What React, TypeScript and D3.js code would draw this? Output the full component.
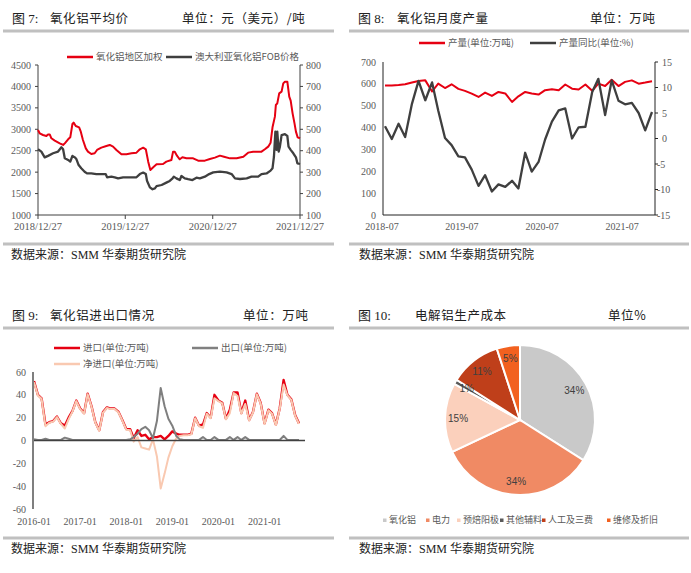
import React from 'react';
import * as d3 from 'd3';

// ---------------- Panel 1: alumina average price ----------------
const p1DomesticPrice: [string, number][] = [
  ['2018-12-27', 2984], ['2019-01-03', 2906], ['2019-01-17', 2867], ['2019-01-31', 2843], ['2019-02-07', 2880],
  ['2019-02-14', 2880], ['2019-02-21', 2790], ['2019-03-07', 2735], ['2019-03-28', 2672], ['2019-04-11', 2634],
  ['2019-04-18', 2672], ['2019-05-02', 2766], ['2019-05-11', 2813], ['2019-05-20', 3124], ['2019-05-25', 3155],
  ['2019-06-03', 3077], ['2019-06-17', 3046], ['2019-06-24', 2945], ['2019-07-03', 2750], ['2019-07-15', 2555],
  ['2019-07-24', 2478], ['2019-08-07', 2424], ['2019-08-21', 2440], ['2019-08-31', 2517], ['2019-09-18', 2571],
  ['2019-10-09', 2610], ['2019-10-23', 2634], ['2019-11-06', 2595], ['2019-11-20', 2517], ['2019-12-11', 2416],
  ['2020-01-01', 2416], ['2020-01-22', 2440], ['2020-02-12', 2455], ['2020-02-26', 2533], ['2020-03-11', 2571],
  ['2020-03-22', 2533], ['2020-04-01', 2245], ['2020-04-10', 2050], ['2020-04-22', 2113], ['2020-05-06', 2183],
  ['2020-06-02', 2190], ['2020-06-16', 2245], ['2020-07-07', 2283], ['2020-07-14', 2478], ['2020-07-21', 2478],
  ['2020-07-31', 2377], ['2020-08-11', 2300], ['2020-08-22', 2346], ['2020-09-08', 2322], ['2020-10-06', 2322],
  ['2020-10-27', 2268], ['2020-11-24', 2268], ['2020-12-15', 2307], ['2021-01-05', 2338], ['2021-01-26', 2385],
  ['2021-02-12', 2361], ['2021-03-09', 2322], ['2021-04-06', 2322], ['2021-05-04', 2361], ['2021-05-24', 2455],
  ['2021-06-14', 2478], ['2021-07-19', 2478], ['2021-08-02', 2533], ['2021-08-16', 2595], ['2021-08-26', 2688],
  ['2021-09-03', 3046], ['2021-09-13', 3295], ['2021-09-17', 3567], ['2021-09-23', 3606], ['2021-10-01', 3839],
  ['2021-10-11', 3878], ['2021-10-18', 4072], ['2021-10-25', 4111], ['2021-11-04', 4111], ['2021-11-12', 3761],
  ['2021-11-18', 3668], ['2021-11-26', 3372], ['2021-12-04', 3139], ['2021-12-10', 2945], ['2021-12-17', 2813],
  ['2021-12-27', 2790],
];
const p1FobPrice: [string, number][] = [
  ['2018-12-27', 407], ['2019-01-10', 396], ['2019-01-24', 369], ['2019-02-07', 376], ['2019-02-28', 388],
  ['2019-03-21', 396], ['2019-04-04', 416], ['2019-04-11', 407], ['2019-04-18', 365], ['2019-05-02', 357],
  ['2019-05-11', 349], ['2019-05-20', 376], ['2019-05-30', 369], ['2019-06-06', 360], ['2019-06-15', 333],
  ['2019-06-26', 318], ['2019-07-10', 302], ['2019-07-20', 294], ['2019-08-07', 294], ['2019-08-28', 291],
  ['2019-09-18', 291], ['2019-10-06', 291], ['2019-10-12', 276], ['2019-10-30', 279], ['2019-11-13', 276],
  ['2019-11-27', 271], ['2019-12-18', 276], ['2020-01-22', 276], ['2020-02-12', 276], ['2020-02-26', 291],
  ['2020-03-11', 298], ['2020-03-22', 291], ['2020-03-27', 260], ['2020-04-08', 229], ['2020-04-19', 220],
  ['2020-04-29', 224], ['2020-05-06', 235], ['2020-05-27', 240], ['2020-06-16', 251], ['2020-06-30', 259],
  ['2020-07-12', 271], ['2020-07-17', 279], ['2020-07-28', 271], ['2020-08-11', 263], ['2020-08-18', 282],
  ['2020-09-01', 271], ['2020-09-15', 267], ['2020-10-03', 263], ['2020-10-20', 274], ['2020-11-03', 271],
  ['2020-11-24', 279], ['2020-12-12', 291], ['2020-12-29', 299], ['2021-01-26', 302], ['2021-02-23', 299],
  ['2021-03-16', 291], ['2021-03-30', 271], ['2021-04-20', 268], ['2021-05-18', 271], ['2021-06-07', 279],
  ['2021-07-05', 279], ['2021-07-19', 291], ['2021-08-09', 294], ['2021-08-26', 307], ['2021-09-03', 318],
  ['2021-09-09', 372], ['2021-09-15', 489], ['2021-09-20', 404], ['2021-09-23', 489], ['2021-09-29', 396],
  ['2021-10-04', 419], ['2021-10-11', 473], ['2021-10-25', 477], ['2021-11-04', 469], ['2021-11-09', 419],
  ['2021-11-18', 404], ['2021-11-29', 388], ['2021-12-10', 369], ['2021-12-16', 341], ['2021-12-27', 338],
];
const p1LeftTicks = [1000, 1500, 2000, 2500, 3000, 3500, 4000, 4500];
const p1RightTicks = [100, 200, 300, 400, 500, 600, 700, 800];
const p1XTicks = ['2018/12/27', '2019/12/27', '2020/12/27', '2021/12/27'];
const p1SeriesNames = ['氧化铝地区加权', '澳大利亚氧化铝FOB价格'];

// ---------------- Panel 2: monthly alumina output ----------------
const p2Start = '2018-07';
const p2Output = [593, 593, 595, 598, 606, 613, 616, 565, 601, 581, 598, 577, 568, 555, 540, 560, 545, 563, 556, 517,
  543, 563, 556, 551, 571, 575, 571, 597, 578, 574, 597, 568, 601, 590, 619, 590, 609, 616, 601, 606, 612];
const p2Yoy = [2.4, -0.1, 2.9, 0.3, 6.8, 11.3, 7.5, 11.0, 5.5, 0.1, -1.3, -3.5, -3.7, -6.1, -9.3, -7.2, -10.4, -9.0,
  -9.5, -8.3, -9.8, -2.8, -6.5, -4.6, -0.2, 3.3, 5.5, 5.9, 0, 2.2, 2.3, 9.1, 11.7, 4.6, 11.4, 7.4, 6.7, 7.0, 5.0, 1.6, 5.2];
const p2LeftTicks = [0, 100, 200, 300, 400, 500, 600, 700];
const p2RightTicks = [-15, -10, -5, 0, 5, 10, 15];
const p2XTicks = ['2018-07', '2019-07', '2020-07', '2021-07'];
const p2SeriesNames = ['产量(单位:万吨)', '产量同比(单位:%)'];

// ---------------- Panel 3: import / export ----------------
const p3Start = '2016-01';
const p3Import = [52, 40, 37, 14, 16, 17, 21, 15, 13, 20, 26, 35, 28, 24, 41, 30, 16, 9, 25, 29,
  28, 28, 25, 18, 10, 10, 2, 9, 4, 5, 1, 3, 3, 4, 1, 4, 8, 6, 5, 5,
  5, 6, 20, 13, 14, 24, 20, 40, 35, 33, 19, 27, 42, 42, 24, 35, 18, 25, 41, 33,
  15, 27, 24, 14, 28, 53, 40, 36, 22, 15];
const p3Export = [1, 0.5, 0.5, 1.5, 0.5, 0.5, 0.5, 0.5, 2.5, 1.5, 0.5, 0.5, 0.5, 0.5, 0.5, 0.5, 0.5, 0.5, 0.5, 0.5,
  0.5, 0.5, 0.5, 0.5, 0.5, 1, 3, 6, 10, 12, 9, 2, 17, 46, 30, 19, 13, 4, 1, 0.5,
  0.5, 0.5, 0.5, 0.5, 3, 0.5, 0.5, 3, 0.5, 0.5, 0.5, 3, 0.5, 3, 0.5, 3, 0.5, 0.5, 0.5, 0.5,
  0.5, 0.5, 0.5, 0.5, 0.5, 4, 0.5, 0.5, 0.5, 0.5];
const p3NetImport = [51, 39.5, 36.5, 12.5, 15.5, 16.5, 20.5, 14.5, 10.5, 18.5, 25.5, 34.5, 27.5, 23.5, 40.5, 29.5, 15.5, 8.5, 24.5, 28.5,
  27.5, 27.5, 24.5, 17.5, 9.5, 9, -1, 3, -6, -7, -8, 1, -14, -42, -29, -15, -5, 2, 4, 4.5,
  4.5, 5.5, 19.5, 12.5, 11, 23.5, 19.5, 37, 34.5, 32.5, 18.5, 24, 41.5, 39, 23.5, 32, 17.5, 24.5, 40.5, 32.5,
  14.5, 26.5, 23.5, 13.5, 27.5, 49, 39.5, 35.5, 21.5, 14.5];
const p3YTicks = [-60, -40, -20, 0, 20, 40, 60];
const p3XTicks = ['2016-01', '2017-01', '2018-01', '2019-01', '2020-01', '2021-01'];
const p3SeriesNames = ['进口(单位:万吨)', '出口(单位:万吨)', '净进口(单位:万吨)'];

// ---------------- Panel 4: cost structure ----------------
const p4Categories = ['氧化铝', '电力', '预焙阳极', '其他辅料', '人工及三费', '维修及折旧'];
const p4Shares = [34, 34, 15, 1, 11, 5];
const p4Colors = ['#c9c9c9', '#f08a64', '#fbd0bc', '#5a5a5a', '#bf3f1a', '#f2611f'];

const SERIF = "'Liberation Serif', 'Noto Sans CJK SC', serif";
const CJK = "'Noto Sans CJK SC', sans-serif";
const SANS = "'Liberation Sans', 'Noto Sans CJK SC', sans-serif";
const RED = '#e60012';
const DARK = '#3f3f3f';
const TICK = '#595959';

const pDay = d3.timeParse('%Y-%m-%d');
const pSlash = d3.timeParse('%Y/%m/%d');
const pMonth = d3.timeParse('%Y-%m');

function Header({ top, x0, x1, fig, figX, name, nameX, unit, unitX }: any) {
  return (
    <g>
      <text x={figX} y={top} fontFamily={SERIF} fontSize={13} fill="#222">{fig}</text>
      <text x={nameX} y={top} fontFamily={CJK} fontSize={12.5} fill="#222" letterSpacing={0.6}>{name}</text>
      <text x={unitX} y={top} fontFamily={CJK} fontSize={12.5} fill="#222" letterSpacing={0.6}>{unit}</text>
      <line x1={x0} x2={x1} y1={top + 8} y2={top + 8} stroke="#c0c0c0" strokeWidth={3} />
    </g>
  );
}

function Footer({ y, x0, x1, tx }: any) {
  return (
    <g>
      <line x1={x0} x2={x1} y1={y} y2={y} stroke="#c0c0c0" strokeWidth={3} />
      <text x={tx} y={y + 15} fontFamily={SERIF} fontSize={12} fill="#222">数据来源：SMM 华泰期货研究院</text>
    </g>
  );
}

function LegendLine({ x, y, color, label, width = 2.5 }: any) {
  return (
    <g>
      <line x1={x} x2={x + 26} y1={y} y2={y} stroke={color} strokeWidth={width} />
      <text x={x + 29} y={y} dy="0.35em" fontFamily={CJK} fontSize={9.5} fill={TICK}>{label}</text>
    </g>
  );
}

function Panel1() {
  const x = d3.scaleTime().domain([pSlash(p1XTicks[0])!, pSlash(p1XTicks[p1XTicks.length - 1])!]).range([38, 300]);
  const yL = d3.scaleLinear().domain([1000, 4500]).range([215, 65]);
  const yR = d3.scaleLinear().domain([100, 800]).range([215, 65]);
  const lineL = d3.line<[string, number]>().x(d => x(pDay(d[0])!)).y(d => yL(d[1]));
  const lineR = d3.line<[string, number]>().x(d => x(pDay(d[0])!)).y(d => yR(d[1]));
  return (
    <g>
      <Header top={23} x0={3} x1={334} fig="图 7:" figX={12} name="氧化铝平均价" nameX={50} unit="单位：元（美元）/吨" unitX={182} />
      <LegendLine x={67} y={57} color={RED} label={p1SeriesNames[0]} width={2.5} />
      <LegendLine x={166} y={57} color={DARK} label={p1SeriesNames[1]} width={2.5} />
      <line x1={38} x2={38} y1={65} y2={215} stroke="#404040" strokeWidth={1} />
      <line x1={300} x2={300} y1={65} y2={215} stroke="#404040" strokeWidth={1} />
      <line x1={38} x2={300} y1={215} y2={215} stroke="#404040" strokeWidth={1} />
      {p1LeftTicks.map(t => (
        <g key={'l' + t}>
          <line x1={35} x2={38} y1={yL(t)} y2={yL(t)} stroke="#404040" />
          <text x={31} y={yL(t)} dy="0.35em" textAnchor="end" fontFamily={SERIF} fontSize={10} fill={TICK}>{t}</text>
        </g>
      ))}
      {p1RightTicks.map(t => (
        <g key={'r' + t}>
          <line x1={300} x2={303} y1={yR(t)} y2={yR(t)} stroke="#404040" />
          <text x={306} y={yR(t)} dy="0.35em" fontFamily={SERIF} fontSize={10} fill={TICK}>{t}</text>
        </g>
      ))}
      {p1XTicks.map(t => (
        <g key={t}>
          <line x1={x(pSlash(t)!)} x2={x(pSlash(t)!)} y1={215} y2={219} stroke="#404040" />
          <text x={x(pSlash(t)!)} y={230} textAnchor="middle" fontFamily={SERIF} fontSize={10.5} fill={TICK}>{t}</text>
        </g>
      ))}
      <path d={lineR(p1FobPrice)!} fill="none" stroke={DARK} strokeWidth={2.3} strokeLinejoin="round" />
      <path d={lineL(p1DomesticPrice)!} fill="none" stroke={RED} strokeWidth={2} strokeLinejoin="round" />
      <Footer y={244} x0={3} x1={334} tx={11} />
    </g>
  );
}

function Panel2() {
  const start = pMonth(p2Start)!;
  const dates = p2Output.map((_, i) => d3.timeMonth.offset(start, i));
  const x = d3.scaleTime().domain([dates[0], dates[dates.length - 1]]).range([385, 652]);
  const yL = d3.scaleLinear().domain([0, 700]).range([215, 62]);
  const yR = d3.scaleLinear().domain([-15, 15]).range([215, 62]);
  const lineL = d3.line<number>().x((_, i) => x(dates[i])).y(d => yL(d));
  const lineR = d3.line<number>().x((_, i) => x(dates[i])).y(d => yR(d));
  return (
    <g>
      <Header top={23} x0={349} x1={689} fig="图 8:" figX={358} name="氧化铝月度产量" nameX={397} unit="单位：万吨" unitX={590} />
      <LegendLine x={419} y={43} color={RED} label={p2SeriesNames[0]} />
      <LegendLine x={530} y={43} color={DARK} label={p2SeriesNames[1]} />
      <line x1={383} x2={383} y1={62} y2={215} stroke="#222" strokeWidth={1} />
      <line x1={655} x2={655} y1={62} y2={215} stroke="#222" strokeWidth={1} />
      <line x1={383} x2={655} y1={215} y2={215} stroke="#222" strokeWidth={1} />
      {p2LeftTicks.map(t => (
        <text key={'l' + t} x={376} y={yL(t)} dy="0.35em" textAnchor="end" fontFamily={SERIF} fontSize={10} fill={TICK}>{t}</text>
      ))}
      {p2RightTicks.map(t => (
        <g key={'r' + t}>
          <line x1={655} x2={658} y1={yR(t)} y2={yR(t)} stroke="#222" />
          <text x={t < 0 ? 657 : 662} y={yR(t)} dy="0.35em" fontFamily={SERIF} fontSize={10} fill={TICK}>{t}</text>
        </g>
      ))}
      {p2XTicks.map(t => (
        <text key={t} x={x(pMonth(t)!) - 3} y={230} textAnchor="middle" fontFamily={SERIF} fontSize={10} fill={TICK}>{t}</text>
      ))}
      <path d={lineL(p2Output)!} fill="none" stroke={RED} strokeWidth={2} strokeLinejoin="round" />
      <path d={lineR(p2Yoy)!} fill="none" stroke={DARK} strokeWidth={2.3} strokeLinejoin="round" />
      <Footer y={244} x0={349} x1={689} tx={359} />
    </g>
  );
}

function Panel3() {
  const start = pMonth(p3Start)!;
  const dates = p3Import.map((_, i) => d3.timeMonth.offset(start, i));
  const x = d3.scaleTime().domain([dates[0], dates[dates.length - 1]]).range([34, 299]);
  const y = d3.scaleLinear().domain([-60, 60]).range([509, 372]);
  const line = d3.line<number>().x((_, i) => x(dates[i])).y(d => y(d));
  return (
    <g>
      <Header top={320} x0={3} x1={334} fig="图 9:" figX={12} name="氧化铝进出口情况" nameX={50} unit="单位：万吨" unitX={243} />
      <LegendLine x={54} y={348} color={RED} label={p3SeriesNames[0]} />
      <LegendLine x={192} y={348} color="#808080" label={p3SeriesNames[1]} />
      <LegendLine x={54} y={364} color="#f9c9b1" label={p3SeriesNames[2]} />
      {p3YTicks.map(t => (
        <text key={t} x={26} y={y(t)} dy="0.35em" textAnchor="end" fontFamily={SERIF} fontSize={10} fill={TICK}>{t}</text>
      ))}
      {p3XTicks.map(t => (
        <text key={t} x={x(pMonth(t)!)} y={525} textAnchor="middle" fontFamily={SERIF} fontSize={10} fill={TICK}>{t}</text>
      ))}
      <path d={line(p3Import)!} fill="none" stroke={RED} strokeWidth={2.4} strokeLinejoin="round" />
      <path d={line(p3NetImport)!} fill="none" stroke="#f9c9b1" strokeWidth={2} strokeLinejoin="round" />
      <path d={line(p3Export)!} fill="none" stroke="#7f7f7f" strokeWidth={2} strokeLinejoin="round" />
      <line x1={33} x2={305} y1={y(0)} y2={y(0)} stroke="#404040" strokeWidth={1.5} />
      <line x1={33} x2={33} y1={372} y2={509} stroke="#7f7f7f" strokeWidth={2} />
      <Footer y={538} x0={3} x1={334} tx={11} />
    </g>
  );
}

function Panel4() {
  const cx = 520, cy = 420, r = 75;
  const pie = d3.pie<number>().sort(null).value(d => d).startAngle(0).endAngle(2 * Math.PI);
  const arcs = pie(p4Shares);
  const arc = d3.arc<d3.PieArcDatum<number>>().innerRadius(0).outerRadius(r);
  const labelArc = d3.arc<d3.PieArcDatum<number>>().innerRadius(62 * 2 - r).outerRadius(r);
  const legendX = [383, 426, 457, 500, 542, 607];
  return (
    <g>
      <Header top={320} x0={349} x1={689} fig="图 10:" figX={358} name="电解铝生产成本" nameX={415} unit="单位%" unitX={608} />
      <g transform={`translate(${cx},${cy})`}>
        {arcs.map((a, i) => (
          <path key={i} d={arc(a)!} fill={p4Colors[i]} stroke="#fff" strokeWidth={2} />
        ))}
        {arcs.map((a, i) => {
          const [lx, ly] = labelArc.centroid(a);
          return (
            <text key={'t' + i} x={lx} y={ly} dy="0.35em" textAnchor="middle" fontFamily={SANS} fontSize={10} fill="#404040">
              {p4Shares[i]}%
            </text>
          );
        })}
      </g>
      {p4Categories.map((c, i) => (
        <g key={c}>
          <rect x={legendX[i]} y={518.5} width={3.5} height={3.5} fill={p4Colors[i]} />
          <text x={legendX[i] + 6} y={520} dy="0.35em" fontFamily={CJK} fontSize={9} fill={TICK}>{c}</text>
        </g>
      ))}
      <Footer y={538} x0={349} x1={689} tx={359} />
    </g>
  );
}

export default function App() {
  return (
    <svg width={691} height={573} style={{ position: 'absolute', left: 0, top: 0, background: '#fff' }}>
      <rect width={691} height={573} fill="#fff" />
      <Panel1 />
      <Panel2 />
      <Panel3 />
      <Panel4 />
    </svg>
  );
}
